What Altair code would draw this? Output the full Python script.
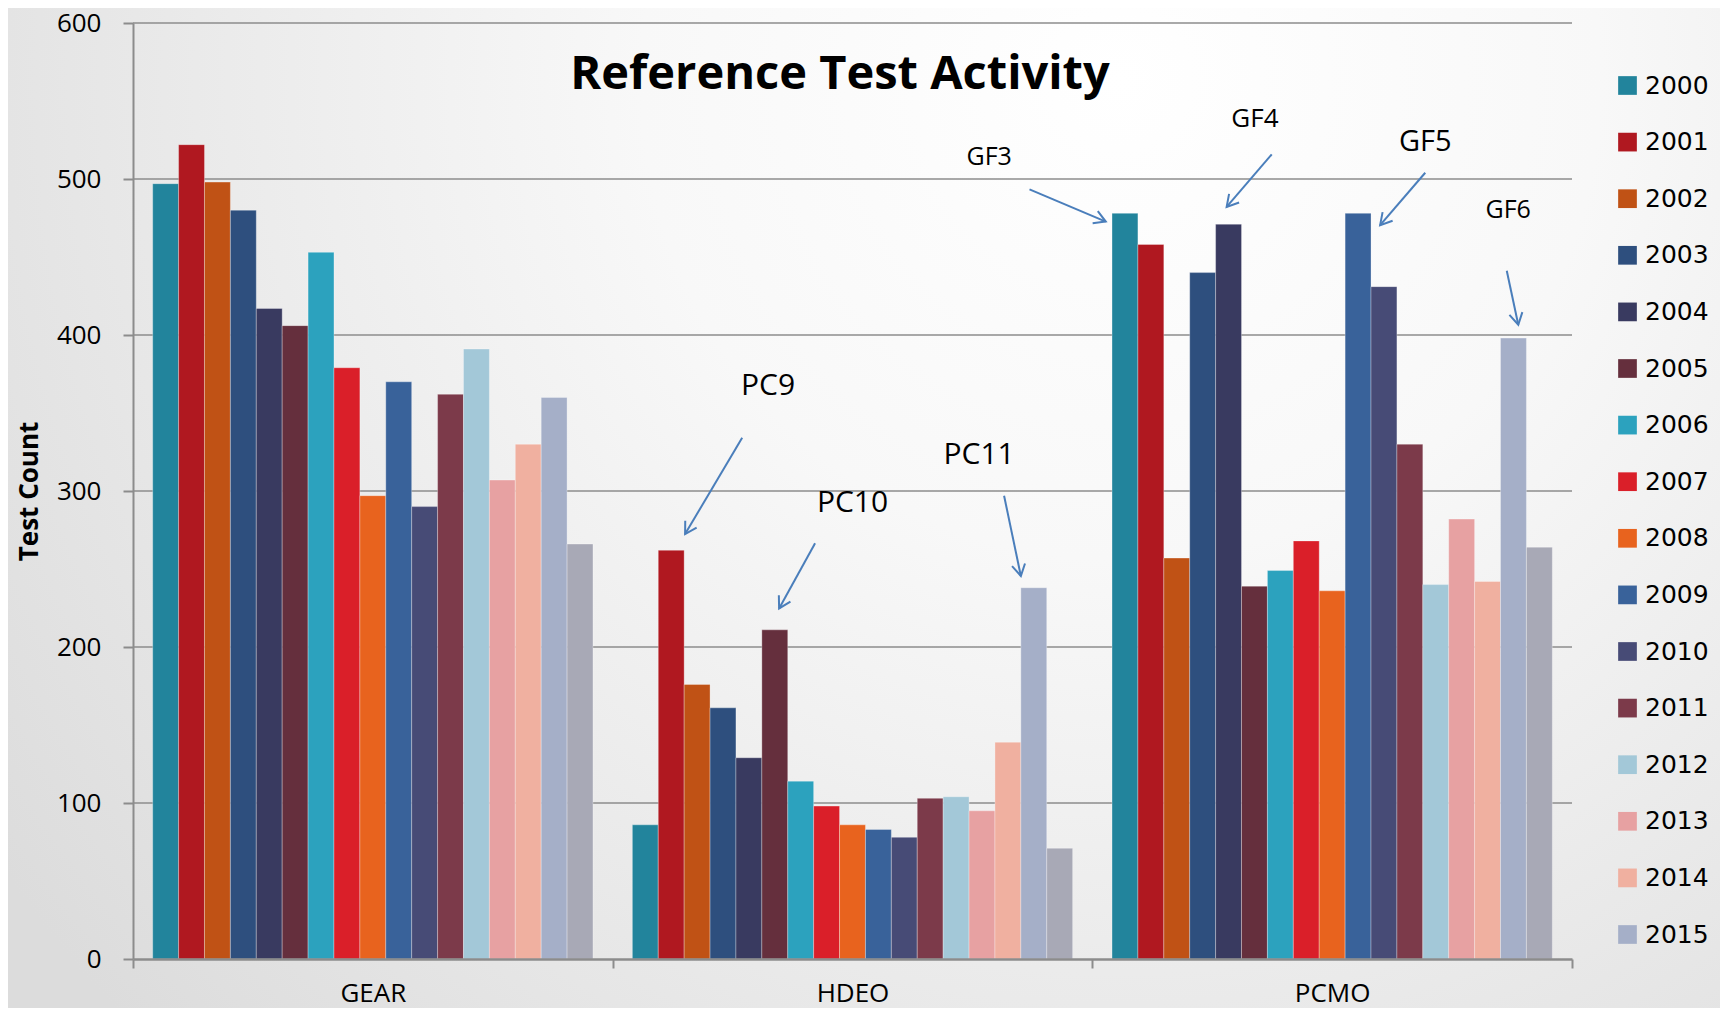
import math
import altair as alt
import pandas as pd

# ---------------- data ----------------
categories = ["GEAR", "HDEO", "PCMO"]
years = [str(y) for y in range(2000, 2017)]
legend_years = years[:16]

gear = [497, 522, 498, 480, 417, 406, 453, 379, 297, 370, 290, 362, 391, 307, 330, 360, 266]
hdeo = [86, 262, 176, 161, 129, 211, 114, 98, 86, 83, 78, 103, 104, 95, 139, 238, 71]
pcmo = [478, 458, 257, 440, 471, 239, 249, 268, 236, 478, 431, 330, 240, 282, 242, 398, 264]

colors = ["#22849c", "#b01820", "#c05215", "#2e4f7e", "#393a60", "#652f3d",
          "#2ca2be", "#da1f29", "#e8631e", "#39629a", "#474b76", "#7c3a4a",
          "#a3c8d8", "#e7a1a2", "#f0b0a0", "#a5afc8", "#a8a9b6"]

y_ticks = [0, 100, 200, 300, 400, 500, 600]
grid_values = [100, 200, 300, 400, 500, 600]

chart_title = "Reference Test Activity"
title_x = [1.474]
title_y = [558]

# annotations (x in category units 0..3, y in Test Count units)
ann_labels = ["PC9", "PC10", "PC11", "GF3", "GF4", "GF5", "GF6"]
ann_label_x = [1.324, 1.500, 1.764, 1.785, 2.339, 2.694, 2.867]
ann_label_y = [367.6, 292.2, 322.9, 514.1, 538.4, 523.8, 480.2]
ann_label_size = [30, 30, 30, 25, 26, 29, 25]
arrow_tail_x = [1.270, 1.422, 1.816, 1.869, 2.374, 2.694, 2.864]
arrow_tail_y = [334.2, 266.5, 297.0, 493.4, 515.8, 504.0, 441.2]
arrow_head_x = [1.151, 1.347, 1.851, 2.028, 2.280, 2.600, 2.888]
arrow_head_y = [272.4, 224.7, 245.5, 472.7, 482.1, 470.4, 406.6]

# ---------------- layout ----------------
W = 1439
H = 936
PAD_L, PAD_T = 125, 15
TOTAL_W, TOTAL_H = 1712, 1000
PAD_R = TOTAL_W - PAD_L - W
PAD_B = TOTAL_H - PAD_T - H
FONT = "Open Sans"
ARROW = "#4a7ebb"
GRID = "#8c8c8c"

rows = []
for cat, vals in zip(categories, [gear, hdeo, pcmo]):
    for yr, v in zip(years, vals):
        rows.append({"category": cat, "year": yr, "value": v})
df = pd.DataFrame(rows)

px_x = W / 3.0
px_y = H / 600.0
angles = []
for tx, ty, hx, hy in zip(arrow_tail_x, arrow_tail_y, arrow_head_x, arrow_head_y):
    dx = (hx - tx) * px_x
    dy = -(hy - ty) * px_y
    angles.append(math.degrees(math.atan2(dx, -dy)) % 360)

ann_df = pd.DataFrame({
    "label": ann_labels, "lx": ann_label_x, "ly": ann_label_y, "fs": ann_label_size,
    "tx": arrow_tail_x, "ty": arrow_tail_y, "hx": arrow_head_x, "hy": arrow_head_y,
    "ang": angles,
})
title_df = pd.DataFrame({"t": [chart_title], "x": title_x, "y": title_y})
grid_df = pd.DataFrame({"g": grid_values})
bg_df = pd.DataFrame({"bg": [0]})

xq = alt.Scale(domain=[0, 3], nice=False, zero=False)
yq = alt.Scale(domain=[0, 600], nice=False)

y_axis = alt.Axis(values=y_ticks, title="Test Count", titleFont=FONT,
                  titleFontSize=26, titleFontWeight="bold", titleColor="black",
                  titleX=-96, titleBaseline="alphabetic",
                  labelFont=FONT, labelFontSize=26, labelColor="black",
                  labelPadding=22, tickSize=10, tickColor=GRID, tickWidth=2,
                  domainColor=GRID, domainWidth=2, grid=False, zindex=1)

bg = alt.Chart(bg_df).mark_rect(
    fill=alt.RadialGradient(
        gradient="radial",
        stops=[alt.GradientStop(color="#ffffff", offset=0),
               alt.GradientStop(color="#f8f8f8", offset=0.35),
               alt.GradientStop(color="#dcdcdc", offset=1)],
        x1=0.65, y1=0.25, r1=0, x2=0.65, y2=0.25, r2=0.8),
).encode(x=alt.value(-PAD_L), x2=alt.value(W + PAD_R),
         y=alt.value(-PAD_T), y2=alt.value(H + PAD_B))

grid = alt.Chart(grid_df).mark_rule(color=GRID, strokeWidth=1.6).encode(
    y=alt.Y("g:Q", scale=yq, axis=y_axis)
)

bars = alt.Chart(df).mark_bar(stroke="white", strokeWidth=1, strokeOpacity=0.3).encode(
    x=alt.X("category:N", sort=categories,
            scale=alt.Scale(paddingInner=0, paddingOuter=0),
            axis=alt.Axis(title=None, labelFont=FONT, labelFontSize=26, labelColor="black",
                          labelAngle=0, tickBand="extent", tickSize=9, tickColor=GRID,
                          tickWidth=2, domainColor=GRID, domainWidth=2.5, labelPadding=12,
                          grid=False, zindex=1)),
    xOffset=alt.XOffset("year:N", sort=years,
                        scale=alt.Scale(paddingInner=0, paddingOuter=0.76)),
    y=alt.Y("value:Q", scale=yq, axis=y_axis),
    color=alt.Color("year:N", sort=years,
                    scale=alt.Scale(domain=years, range=colors),
                    legend=alt.Legend(values=legend_years, title=None, orient="none",
                                      legendX=1482, legendY=50, symbolType="square",
                                      symbolSize=350, symbolStrokeWidth=0, symbolOpacity=1,
                                      labelFont="DejaVu Sans", labelFontSize=25,
                                      labelColor="black", labelOffset=5, rowPadding=30.6,
                                      padding=0)),
)

arrows = alt.Chart(ann_df).mark_rule(color=ARROW, strokeWidth=2).encode(
    x=alt.X("tx:Q", scale=xq, axis=None), x2="hx:Q",
    y=alt.Y("ty:Q", scale=yq, axis=y_axis), y2="hy:Q",
)

heads = alt.Chart(ann_df).mark_point(
    shape="M -0.5 0.866 L 0 0 L 0.5 0.866", filled=False, color=ARROW,
    strokeWidth=2, size=700, opacity=1,
).encode(
    x=alt.X("hx:Q", scale=xq, axis=None),
    y=alt.Y("hy:Q", scale=yq, axis=y_axis),
    angle=alt.Angle("ang:Q", scale=None),
)

labels = alt.Chart(ann_df).mark_text(font=FONT, color="black", baseline="middle",
                                      align="center").encode(
    x=alt.X("lx:Q", scale=xq, axis=None),
    y=alt.Y("ly:Q", scale=yq, axis=y_axis),
    text="label:N",
    size=alt.Size("fs:Q", scale=None, legend=None),
)

title = alt.Chart(title_df).mark_text(font=FONT, fontWeight="bold", fontSize=47,
                                       color="black", baseline="alphabetic",
                                       align="center").encode(
    x=alt.X("x:Q", scale=xq, axis=None),
    y=alt.Y("y:Q", scale=yq, axis=y_axis),
    text="t:N",
)

chart = alt.layer(bg, grid, bars, arrows, heads, labels, title).resolve_scale(
    x="independent"
).properties(
    width=W, height=H,
    autosize=alt.AutoSizeParams(type="none"),
    padding={"left": PAD_L, "top": PAD_T, "right": PAD_R, "bottom": PAD_B},
    background="#e4e4e4",
).configure_view(stroke=None)

chart.save("out.html", embed_options={"renderer": "svg", "actions": False})
